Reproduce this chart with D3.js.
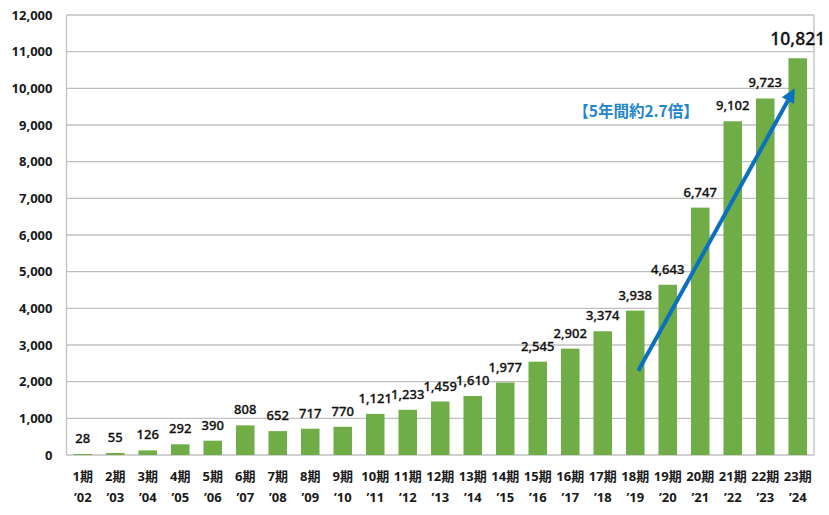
<!DOCTYPE html>
<html><head><meta charset="utf-8">
<script src="https://cdn.jsdelivr.net/npm/d3@7"></script>
<style>
body{margin:0;background:#fff;}
text{font-family:"Noto Sans","Noto Sans CJK JP",sans-serif;font-weight:bold;}
</style></head>
<body><svg id="c" width="829" height="515"></svg>
<script>
const periods = ["1期","2期","3期","4期","5期","6期","7期","8期","9期","10期","11期","12期","13期","14期","15期","16期","17期","18期","19期","20期","21期","22期","23期"];
const years = ["’02","’03","’04","’05","’06","’07","’08","’09","’10","’11","’12","’13","’14","’15","’16","’17","’18","’19","’20","’21","’22","’23","’24"];
const values = [28,55,126,292,390,808,652,717,770,1121,1233,1459,1610,1977,2545,2902,3374,3938,4643,6747,9102,9723,10821];
const yTicks = [0,1000,2000,3000,4000,5000,6000,7000,8000,9000,10000,11000,12000];
const annotation = "【5年間約2.7倍】";
const arrowFrom = {period:"18期", value:2300};
const arrowTo = {period:"23期", value:10000};

const svg = d3.select("#c");
const L=66.5, R=814, T=15, B=455;
const x = d3.scaleBand().domain(periods).range([L,R]).paddingInner(0.43).paddingOuter(0.215);
const y = d3.scaleLinear().domain([0,12000]).range([B,T]);

// gridlines
svg.append("g").selectAll("line").data(yTicks).join("line")
  .attr("x1",L).attr("x2",R).attr("y1",d=>y(d)).attr("y2",d=>y(d))
  .attr("stroke","#c0c0c0").attr("stroke-width",1.3);
// borders
svg.append("line").attr("x1",L).attr("x2",L).attr("y1",T).attr("y2",B).attr("stroke","#c0c0c0").attr("stroke-width",1.3);
svg.append("line").attr("x1",R).attr("x2",R).attr("y1",T).attr("y2",B).attr("stroke","#c0c0c0").attr("stroke-width",1.3);

// y axis labels
const yAxis = d3.axisLeft(y).tickValues(yTicks).tickSize(0).tickPadding(14).tickFormat(d3.format(","));
const ga = svg.append("g").attr("transform",`translate(${L},0)`).call(yAxis);
ga.select(".domain").remove();
ga.selectAll("text").attr("font-size",13).attr("fill","#1a1a1a")
  .style("font-family",'"Noto Sans",sans-serif').style("font-weight","bold");

// bars
svg.append("g").selectAll("rect").data(values).join("rect")
  .attr("x",(d,i)=>x(periods[i])).attr("width",x.bandwidth())
  .attr("y",d=>y(d)).attr("height",d=>B-y(d)).attr("fill","#70ad47");

// value labels
svg.append("g").selectAll("text").data(values).join("text")
  .attr("x",(d,i)=>x(periods[i])+x.bandwidth()/2)
  .attr("y",(d,i)=>i===values.length-1 ? y(d)-13 : y(d)-11)
  .attr("text-anchor","middle")
  .attr("font-size",(d,i)=>i===values.length-1?17.5:13)
  .style("font-weight",500)
  .attr("fill","#111")
  .attr("stroke","#111").attr("stroke-width",0.3)
  .text(d=>d3.format(",")(d));

// x labels
const gx = svg.append("g");
gx.selectAll("text.p").data(periods).join("text").attr("class","p")
  .attr("x",d=>x(d)+x.bandwidth()/2).attr("y",481).attr("text-anchor","middle")
  .attr("font-size",13).attr("fill","#1a1a1a").text(d=>d);
gx.selectAll("text.yr").data(years).join("text").attr("class","yr")
  .attr("x",(d,i)=>x(periods[i])+x.bandwidth()/2).attr("y",502).attr("text-anchor","middle")
  .attr("font-size",13).attr("fill","#1a1a1a").text(d=>d);

// arrow
const x1 = x(arrowFrom.period)+x.bandwidth()/2+3, y1 = y(arrowFrom.value);
const x2 = x(arrowTo.period)+x.bandwidth()/2-3, y2 = y(arrowTo.value);
const ang = Math.atan2(y2-y1,x2-x1);
const hl=14, hw=7;
const bx = x2-hl*Math.cos(ang), by = y2-hl*Math.sin(ang);
svg.append("line").attr("x1",x1).attr("y1",y1).attr("x2",bx).attr("y2",by)
  .attr("stroke","#0a70c0").attr("stroke-width",4);
svg.append("polygon").attr("fill","#0a70c0").attr("points",[
  [x2,y2],
  [bx+hw*Math.sin(ang), by-hw*Math.cos(ang)],
  [bx-hw*Math.sin(ang), by+hw*Math.cos(ang)]
].map(p=>p.join(",")).join(" "));

// annotation
svg.append("text").attr("x",636).attr("y",117).attr("text-anchor","middle")
  .attr("font-size",15.5).attr("fill","#1f86d0")
  .style("font-family",'"Noto Sans CJK JP",sans-serif').text(annotation);
</script></body></html>
